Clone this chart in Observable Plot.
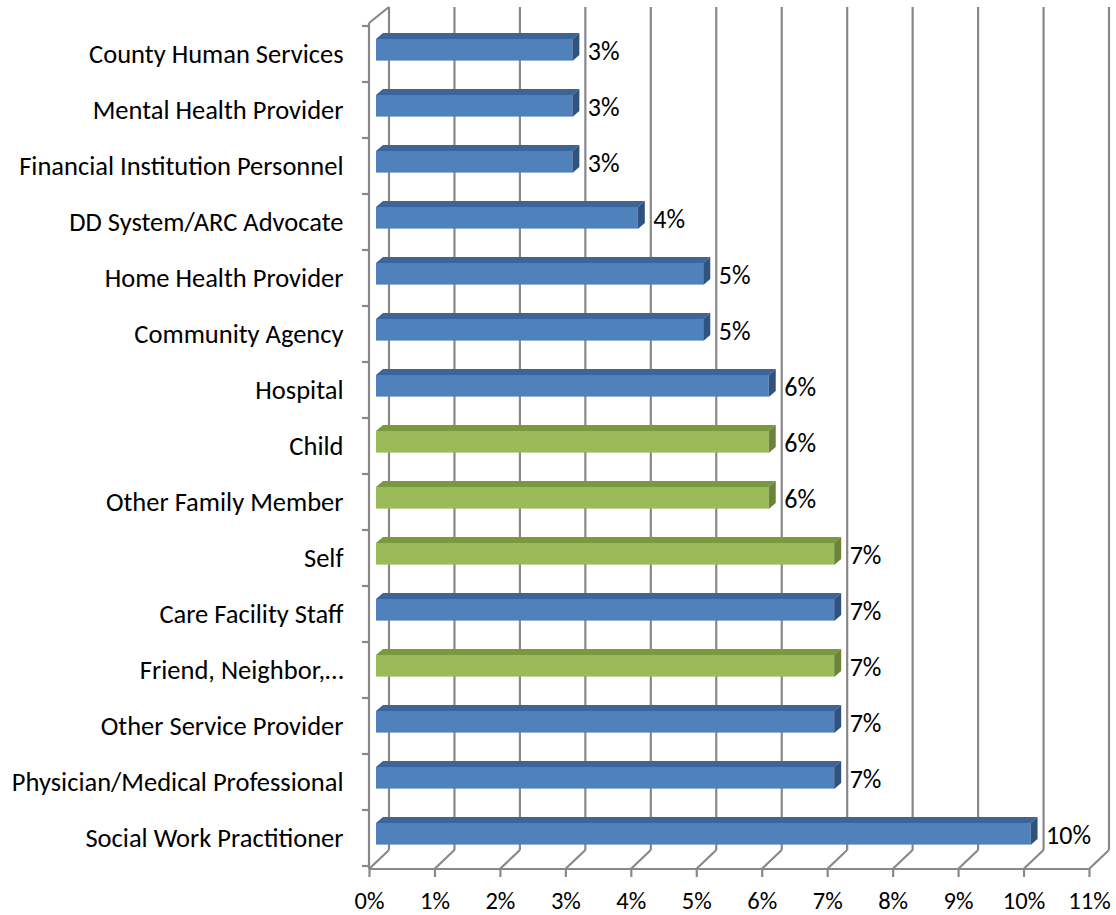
<!DOCTYPE html>
<html>
<head>
<meta charset="utf-8">
<script src="https://cdn.jsdelivr.net/npm/d3@7"></script>
<script src="https://cdn.jsdelivr.net/npm/@observablehq/plot@0.6"></script>
<style>
  body { margin: 0; background: #ffffff; }
  #chart svg { display: block; }
</style>
</head>
<body>
<div id="chart"></div>
<script>
// ---- data ----
const categories = [
  "County Human Services",
  "Mental Health Provider",
  "Financial Institution Personnel",
  "DD System/ARC Advocate",
  "Home Health Provider",
  "Community Agency",
  "Hospital",
  "Child",
  "Other Family Member",
  "Self",
  "Care Facility Staff",
  "Friend, Neighbor,…",
  "Other Service Provider",
  "Physician/Medical Professional",
  "Social Work Practitioner"
];
const values = [3, 3, 3, 4, 5, 5, 6, 6, 6, 7, 7, 7, 7, 7, 10];
const groups = [
  "professional", "professional", "professional", "professional", "professional",
  "professional", "professional", "personal", "personal", "personal",
  "professional", "personal", "professional", "professional", "professional"
];
const xTicks = [0, 1, 2, 3, 4, 5, 6, 7, 8, 9, 10, 11];

// ---- styling ----
const FONT = "Carlito, Calibri, Lato, 'Liberation Sans', sans-serif";
const palette = {
  professional: {front: "#4F81BD", top: "#3D659A", side: "#2F527F"},
  personal:     {front: "#9BBB59", top: "#7A9842", side: "#6A8538"}
};
const GRID = "#888888";
const DEPTH_X = 20, DEPTH_Y = 19;   // back wall offset
const BAR_DX = 7, BAR_DY = 6;       // bar depth offset

const data = categories.map((c, i) => ({category: c, value: values[i], group: groups[i]}));

// 3D frame: back wall gridlines, floor lines, left wall, category ticks
function frame3d(index, scales, channels, dims) {
  const {x, y} = scales;
  const g = d3.create("svg:g").attr("fill", "none").attr("stroke", GRID).attr("stroke-width", 2.2);
  const top = dims.marginTop, bottom = dims.height - dims.marginBottom;
  const x0 = x(0);
  for (const t of xTicks) {
    const xb = x(t) + DEPTH_X;
    g.append("line").attr("x1", xb).attr("x2", xb).attr("y1", top - 16).attr("y2", bottom - DEPTH_Y);
    g.append("line").attr("x1", x(t)).attr("y1", bottom).attr("x2", xb).attr("y2", bottom - DEPTH_Y);
  }
  g.append("line").attr("x1", x0).attr("x2", x(xTicks[xTicks.length - 1])).attr("y1", bottom).attr("y2", bottom);
  g.append("line").attr("x1", x0).attr("x2", x0).attr("y1", top).attr("y2", bottom);
  g.append("line").attr("x1", x0).attr("y1", top).attr("x2", x0 + DEPTH_X).attr("y2", top - 16);
  const bw = y(categories[1]) - y(categories[0]);
  for (let i = 0; i <= categories.length; i++) {
    const yy = y(categories[0]) + i * bw;
    g.append("line").attr("x1", x0 - 7).attr("x2", x0).attr("y1", yy).attr("y2", yy);
  }
  return g.node();
}

// top and side faces of the 3D bars
function barFaces(index, scales) {
  const {x, y} = scales;
  const g = d3.create("svg:g").attr("stroke", "none");
  for (const d of data) {
    const y0 = y(d.category);
    const t = y0 + 13, b = y0 + 35;
    const xl = x(0) + BAR_DX, xr = x(d.value) + BAR_DX;
    const c = palette[d.group];
    g.append("path")
      .attr("d", `M${xl},${t}L${xr},${t}L${xr + BAR_DX},${t - BAR_DY}L${xl + BAR_DX},${t - BAR_DY}Z`)
      .attr("fill", c.top);
    g.append("path")
      .attr("d", `M${xr},${t}L${xr + BAR_DX},${t - BAR_DY}L${xr + BAR_DX},${b - BAR_DY}L${xr},${b}Z`)
      .attr("fill", c.side);
  }
  return g.node();
}

const chart = Plot.plot({
  width: 1116,
  height: 915,
  marginLeft: 369,
  marginRight: 27,
  marginTop: 23,
  marginBottom: 46,
  style: {fontFamily: FONT, fontSize: "25px", color: "#000", background: "#fff"},
  x: {domain: [0, 11], axis: null, label: null},
  y: {domain: categories, padding: 0, axis: null, label: null},
  marks: [
    frame3d,
    Plot.barX(data, {
      x1: 0, x2: "value", y: "category",
      fill: d => palette[d.group].front,
      dx: BAR_DX, insetTop: 13, insetBottom: 21.4
    }),
    barFaces,
    Plot.text(data, {
      x: "value", y: "category", text: d => d.value + "%",
      textAnchor: "start", dx: 22, dy: -3, fontSize: 26, fill: "#000"
    }),
    Plot.axisX({
      ticks: xTicks, tickFormat: d => d + "%", tickSize: 8, tickPadding: 14,
      stroke: GRID, strokeWidth: 2.2, fontSize: 24.5, fill: "#000", label: null
    }),
    Plot.axisY({
      tickSize: 0, tickPadding: 26, fontSize: 26.5, fill: "#000", label: null
    })
  ]
});
document.getElementById("chart").append(chart);
</script>
</body>
</html>
